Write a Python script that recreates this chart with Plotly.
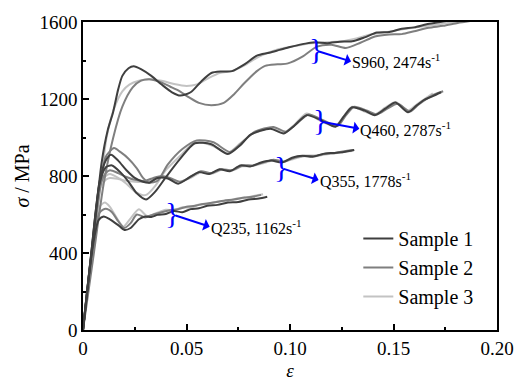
import plotly.graph_objects as go

# ---------------- data ----------------
s960_x1 = [0, 0.005, 0.009, 0.012, 0.0145, 0.017, 0.019, 0.022, 0.0245, 0.028, 0.033, 0.038, 0.043, 0.047, 0.052, 0.057, 0.062, 0.067, 0.072, 0.078, 0.084, 0.09, 0.095, 0.1, 0.106, 0.112, 0.118, 0.124, 0.13, 0.136, 0.142, 0.148, 0.154, 0.16, 0.166, 0.172, 0.178]
s960_y1 = [0, 480, 870, 1040, 1130, 1250, 1320, 1360, 1370, 1355, 1320, 1275, 1235, 1218, 1235, 1290, 1335, 1343, 1345, 1380, 1425, 1440, 1455, 1470, 1485, 1495, 1490, 1498, 1500, 1520, 1545, 1548, 1565, 1572, 1588, 1598, 1610]
s960_x2 = [0, 0.005, 0.01, 0.0145, 0.019, 0.024, 0.028, 0.032, 0.037, 0.042, 0.046, 0.051, 0.056, 0.062, 0.068, 0.073, 0.078, 0.084, 0.088, 0.094, 0.099, 0.106, 0.113, 0.12, 0.127, 0.134, 0.141, 0.148, 0.154, 0.16, 0.167, 0.174, 0.181, 0.187]
s960_y2 = [0, 380, 760, 995, 1160, 1260, 1295, 1303, 1290, 1265, 1245, 1210, 1180, 1168, 1180, 1225, 1283, 1345, 1372, 1380, 1385, 1420, 1472, 1482, 1465, 1492, 1525, 1535, 1537, 1552, 1570, 1580, 1595, 1605]
s960_x3 = [0, 0.005, 0.009, 0.0114, 0.015, 0.019, 0.0224, 0.027, 0.032, 0.038, 0.044, 0.05, 0.055, 0.06, 0.066, 0.072, 0.078, 0.085, 0.094, 0.1, 0.11, 0.118, 0.125, 0.132, 0.14, 0.148, 0.155, 0.163, 0.17, 0.178, 0.186]
s960_y3 = [0, 430, 800, 1000, 1150, 1240, 1275, 1295, 1303, 1295, 1278, 1268, 1276, 1305, 1335, 1345, 1375, 1420, 1457, 1470, 1490, 1495, 1500, 1515, 1538, 1550, 1563, 1575, 1585, 1598, 1610]

q460_x1 = [0, 0.004, 0.008, 0.011, 0.014, 0.018, 0.022, 0.026, 0.0305, 0.035, 0.04, 0.047, 0.054, 0.062, 0.07, 0.076, 0.081, 0.0905, 0.097, 0.102, 0.108, 0.115, 0.122, 0.126, 0.13, 0.136, 0.141, 0.146, 0.151, 0.157, 0.161, 0.165, 0.169, 0.173]
q460_y1 = [0, 400, 760, 845, 855, 820, 770, 710, 678, 720, 793, 890, 970, 965, 914, 960, 1015, 1046, 1021, 1060, 1116, 1090, 1056, 1110, 1157, 1140, 1116, 1150, 1182, 1131, 1165, 1197, 1215, 1235]
q460_x2 = [0, 0.004, 0.008, 0.011, 0.015, 0.018, 0.022, 0.026, 0.029, 0.032, 0.036, 0.041, 0.048, 0.055, 0.063, 0.071, 0.077, 0.083, 0.092, 0.098, 0.103, 0.109, 0.116, 0.123, 0.127, 0.131, 0.137, 0.142, 0.147, 0.152, 0.158, 0.162, 0.166, 0.17, 0.174]
q460_y2 = [0, 370, 720, 900, 945, 925, 890, 840, 790, 765, 775, 860, 940, 985, 975, 925, 975, 1030, 1055, 1030, 1070, 1120, 1090, 1060, 1115, 1160, 1140, 1120, 1150, 1175, 1135, 1170, 1200, 1225, 1240]
q460_x3 = [0, 0.004, 0.008, 0.011, 0.013, 0.017, 0.021, 0.025, 0.029, 0.031, 0.035, 0.04, 0.047, 0.054, 0.062, 0.07, 0.076, 0.082, 0.091, 0.097, 0.102, 0.108, 0.115, 0.122, 0.126, 0.13, 0.136, 0.141, 0.146, 0.151, 0.157, 0.161, 0.165, 0.169]
q460_y3 = [0, 390, 740, 800, 810, 790, 760, 720, 700, 705, 750, 830, 905, 975, 960, 920, 970, 1020, 1050, 1025, 1065, 1125, 1085, 1060, 1110, 1160, 1135, 1120, 1155, 1185, 1140, 1170, 1200, 1230]

q355_x1 = [0, 0.004, 0.008, 0.011, 0.0135, 0.017, 0.021, 0.025, 0.029, 0.032, 0.036, 0.041, 0.046, 0.051, 0.056, 0.061, 0.066, 0.071, 0.076, 0.081, 0.086, 0.091, 0.096, 0.101, 0.106, 0.111, 0.116, 0.121, 0.126, 0.131]
q355_y1 = [0, 400, 770, 880, 910, 880, 830, 790, 770, 765, 790, 787, 760, 790, 820, 810, 835, 825, 855, 850, 870, 880, 870, 895, 905, 900, 915, 920, 925, 935]
q355_x2 = [0, 0.004, 0.008, 0.011, 0.013, 0.017, 0.021, 0.025, 0.03, 0.034, 0.038, 0.042, 0.047, 0.052, 0.057, 0.062, 0.067, 0.072, 0.077, 0.082, 0.087, 0.092, 0.097, 0.102, 0.107, 0.112, 0.117, 0.122, 0.127, 0.131]
q355_y2 = [0, 380, 740, 815, 830, 815, 795, 780, 775, 790, 800, 790, 770, 795, 825, 815, 835, 830, 855, 855, 870, 885, 875, 895, 905, 905, 915, 920, 930, 935]
q355_x3 = [0, 0.004, 0.008, 0.011, 0.013, 0.017, 0.021, 0.025, 0.03, 0.034, 0.038, 0.042, 0.047, 0.052, 0.057, 0.062, 0.067, 0.072, 0.077, 0.082, 0.087, 0.092, 0.097, 0.102, 0.107, 0.112, 0.117, 0.122, 0.126, 0.13]
q355_y3 = [0, 390, 730, 780, 790, 785, 775, 770, 770, 785, 795, 785, 770, 790, 820, 812, 832, 828, 850, 852, 866, 880, 874, 890, 902, 902, 912, 918, 925, 930]

q235_x1 = [0, 0.004, 0.0075, 0.01, 0.013, 0.017, 0.02, 0.023, 0.027, 0.03, 0.033, 0.036, 0.04, 0.044, 0.048, 0.052, 0.056, 0.06, 0.065, 0.07, 0.075, 0.08, 0.085, 0.089]
q235_y1 = [0, 380, 570, 590, 575, 545, 520, 530, 575, 590, 587, 598, 603, 618, 612, 628, 632, 645, 650, 662, 665, 678, 683, 692]
q235_x2 = [0, 0.004, 0.008, 0.011, 0.014, 0.017, 0.02, 0.023, 0.026, 0.03, 0.034, 0.038, 0.042, 0.046, 0.05, 0.054, 0.058, 0.063, 0.068, 0.073, 0.078, 0.082, 0.086]
q235_y2 = [0, 385, 610, 630, 612, 565, 530, 555, 600, 585, 600, 612, 622, 628, 640, 645, 655, 662, 672, 678, 688, 692, 702]
q235_x3 = [0, 0.004, 0.008, 0.0105, 0.013, 0.017, 0.0195, 0.023, 0.027, 0.031, 0.035, 0.04, 0.044, 0.048, 0.052, 0.056, 0.06, 0.065, 0.07, 0.074, 0.079, 0.083, 0.087]
q235_y3 = [0, 390, 640, 662, 640, 570, 537, 580, 627, 592, 605, 625, 622, 638, 635, 652, 655, 668, 672, 682, 688, 698, 705]

sample_names = ["Sample 1", "Sample 2", "Sample 3"]
sample_colors = ["#3f3f3f", "#7f7f7f", "#c3c3c3"]

x_ticks = [0, 0.05, 0.10, 0.15, 0.20]
x_tick_text = ["0", "0.05", "0.10", "0.15", "0.20"]
y_ticks = [0, 400, 800, 1200, 1600]

labels = ["S960, 2474s<sup>-1</sup>", "Q460, 2787s<sup>-1</sup>", "Q355, 1778s<sup>-1</sup>", "Q235, 1162s<sup>-1</sup>"]
bracket_x = [0.1125, 0.1145, 0.0955, 0.0432]
bracket_y = [1455, 1088, 845, 603]
tip_x = [0.1295, 0.1335, 0.1138, 0.0612]
tip_y = [1395, 1046, 779, 537]

# ---------------- figure ----------------
FONT = "'Times New Roman', 'Liberation Serif', serif"
fig = go.Figure()

groups = [
    [(s960_x1, s960_y1), (s960_x2, s960_y2), (s960_x3, s960_y3)],
    [(q460_x1, q460_y1), (q460_x2, q460_y2), (q460_x3, q460_y3)],
    [(q355_x1, q355_y1), (q355_x2, q355_y2), (q355_x3, q355_y3)],
    [(q235_x1, q235_y1), (q235_x2, q235_y2), (q235_x3, q235_y3)],
]
for si in [2, 1, 0]:
    for gi, grp in enumerate(groups):
        xs, ys = grp[si]
        fig.add_trace(go.Scatter(
            x=xs, y=ys, mode="lines",
            line=dict(color=sample_colors[si], width=2, shape="spline", smoothing=0.7),
            name=sample_names[si], legendgroup=sample_names[si],
            showlegend=(gi == 0), legendrank=si + 1,
        ))

for i in range(4):
    fig.add_annotation(x=bracket_x[i], y=bracket_y[i], text="}", showarrow=False,
                       font=dict(family=FONT, size=30, color="#0000ff"),
                       xanchor="center", yanchor="middle", yshift=1)
    fig.add_annotation(x=bracket_x[i] + 0.0015, y=bracket_y[i] - 8,
                       ax=tip_x[i], ay=tip_y[i], axref="x", ayref="y", xref="x", yref="y",
                       text=labels[i], xanchor="left", yanchor="middle",
                       showarrow=True, arrowside="start", arrowhead=2, arrowsize=1.3,
                       arrowwidth=2, arrowcolor="#0000ff", standoff=0, startstandoff=0,
                       borderpad=0,
                       font=dict(family=FONT, size=16, color="black"))

fig.update_layout(
    width=526, height=390,
    margin=dict(l=83, r=23, t=17, b=55),
    paper_bgcolor="white", plot_bgcolor="white",
    font=dict(family=FONT, size=19, color="black"),
    legend=dict(x=0.665, y=0.36, xanchor="left", yanchor="top",
                bgcolor="rgba(0,0,0,0)", font=dict(family=FONT, size=20), tracegroupgap=0),
    xaxis=dict(range=[0, 0.2], tickvals=x_ticks, ticktext=x_tick_text,
               tickfont=dict(family=FONT, size=19),
               showline=True, linecolor="black", linewidth=1.5, mirror=True,
               ticks="inside", ticklen=6, tickwidth=1.5, tickcolor="black",
               minor=dict(ticks="inside", ticklen=3, tickwidth=1.5, dtick=0.025, tick0=0, tickcolor="black"),
               showgrid=False, zeroline=False,
               title=dict(text="<i>ε</i>", standoff=6, font=dict(family=FONT, size=19))),
    yaxis=dict(range=[0, 1600], tickvals=y_ticks,
               tickfont=dict(family=FONT, size=19),
               showline=True, linecolor="black", linewidth=1.5, mirror=True,
               ticks="inside", ticklen=6, tickwidth=1.5, tickcolor="black",
               minor=dict(ticks="inside", ticklen=3, tickwidth=1.5, dtick=200, tick0=0, tickcolor="black"),
               showgrid=False, zeroline=False,
               title=dict(text="<i>σ</i> / MPa", standoff=4, font=dict(family=FONT, size=20))),
)

fig.write_html("out.html")
